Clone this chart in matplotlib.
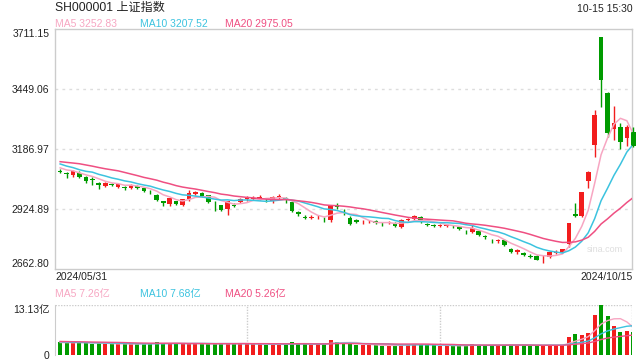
import matplotlib
matplotlib.use("Agg")
import matplotlib.pyplot as plt
import numpy as np

plt.rcParams['font.family'] = ['Liberation Sans', 'Noto Sans CJK SC', 'DejaVu Sans']

# ---------------- data ----------------
dates_first = "2024/05/31"
dates_last = "2024/10/15"

prior_close = [3140.72, 3147.74, 3128.48, 3154.32, 3154.55, 3148.02, 3145.77, 3119.90,
               3122.40, 3154.03, 3171.15, 3157.97, 3158.54, 3116.39, 3088.87, 3124.04,
               3109.57, 3111.02, 3091.68]

open_ = [3093, 3084, 3074, 3082, 3064, 3054, 3040, 3027, 3036, 3022,
         3019, 3016, 3027, 3017, 3001, 2986, 2958, 2947, 2958, 2943,
         2968, 2991, 2996, 2985, 2953, 2941, 2925, 2944, 2955, 2967,
         2970, 2972, 2965, 2962, 2975, 2972, 2955, 2912, 2889, 2887,
         2888, 2882, 2876, 2942, 2910, 2886, 2878, 2866, 2866, 2874,
         2861, 2864, 2865, 2846, 2876, 2882, 2890, 2859, 2856, 2851,
         2852, 2851, 2846, 2826, 2825, 2830, 2806, 2787, 2785, 2790,
         2751, 2736, 2734, 2720, 2718, 2714, 2716, 2733, 2736, 2770.75,
         2901, 2893, 3047, 3206, 3674.4, 3433, 3276, 3282, 3236, 3262]
close = [3086.81, 3078.49, 3091.20, 3065.40, 3048.79, 3051.28, 3028.05, 3037.47, 3028.92, 3032.63,
         3015.89, 3030.25, 3018.05, 3005.44, 2998.14, 2963.10, 2950.00, 2972.53, 2945.85, 2967.40,
         2994.73, 2997.01, 2982.38, 2957.57, 2949.93, 2922.45, 2959.37, 2939.36, 2970.39, 2971.30,
         2974.01, 2976.30, 2962.84, 2977.13, 2982.31, 2964.22, 2915.37, 2901.95, 2886.43, 2890.90,
         2891.85, 2879.30, 2938.75, 2932.39, 2905.34, 2860.70, 2867.28, 2869.90, 2869.83, 2862.19,
         2858.20, 2867.95, 2850.65, 2877.36, 2879.43, 2893.67, 2866.66, 2856.58, 2848.77, 2854.37,
         2855.52, 2848.73, 2837.43, 2823.11, 2842.21, 2811.04, 2802.98, 2784.28, 2788.22, 2765.81,
         2736.49, 2744.19, 2721.80, 2717.12, 2704.09, 2717.28, 2736.02, 2736.81, 2748.92, 2863.13,
         2896.31, 3000.95, 3087.53, 3336.50, 3489.78, 3258.86, 3301.93, 3217.74, 3284.32, 3201.29]
high = [3098, 3088, 3095, 3090, 3068, 3064, 3044, 3045, 3040, 3036,
        3025, 3034, 3031, 3020, 3008, 2990, 2962, 2975, 2962, 2970,
        3008, 3003, 3000, 2988, 2960, 2944, 2962, 2952, 2975, 2980,
        2982, 2984, 2975, 2980, 2990, 2976, 2958, 2915, 2898, 2898,
        2898, 2888, 2942, 2950, 2925, 2893, 2882, 2875, 2875, 2878,
        2866, 2872, 2868, 2880, 2885, 2898, 2894, 2865, 2860, 2860,
        2860, 2856, 2850, 2832, 2857, 2834, 2812, 2795, 2795, 2795,
        2755, 2750, 2737, 2728, 2722, 2722, 2742, 2745, 2752, 2863.13,
        2952, 3001, 3090, 3358, 3674.4, 3435, 3373, 3302, 3290, 3282]
low = [3082, 3060, 3066, 3062, 3040, 3029, 3011, 3022, 3024, 3017,
       3008, 3012, 3014, 3000, 2990, 2960, 2940, 2940, 2942, 2938,
       2962, 2986, 2978, 2950, 2918, 2918, 2898, 2934, 2950, 2962,
       2965, 2966, 2955, 2950, 2970, 2950, 2912, 2896, 2880, 2880,
       2882, 2868, 2870, 2925, 2900, 2856, 2862, 2860, 2862, 2858,
       2852, 2858, 2846, 2842, 2872, 2878, 2862, 2850, 2845, 2846,
       2846, 2842, 2833, 2816, 2820, 2808, 2796, 2778, 2778, 2762,
       2732, 2728, 2718, 2710, 2700, 2689, 2712, 2728, 2732, 2760,
       2889, 2889, 3016, 3152, 3371, 3239, 3226, 3186, 3202, 3196]

# volume in 亿
prior_vol = [3.9, 3.8, 3.6, 3.9, 3.7, 3.6, 3.5, 3.4, 3.3, 3.8, 4.1, 3.7, 3.5, 3.6, 3.4,
             3.3, 3.2, 3.1, 3.3]
volume = [3.5, 3.2, 3.1, 3.3, 3.2, 3.0, 3.1, 2.9, 2.8, 2.9,
          3.0, 2.9, 2.8, 3.0, 3.1, 3.3, 3.0, 3.0, 3.1, 2.9,
          3.0, 3.1, 2.9, 2.9, 2.8, 3.2, 3.1, 2.9, 3.0, 2.9,
          2.8, 2.9, 2.7, 2.8, 2.9, 2.8, 3.4, 3.0, 2.9, 2.7,
          2.8, 2.8, 4.0, 3.5, 3.1, 3.0, 2.7, 2.6, 2.6, 2.5,
          2.4, 2.6, 2.5, 2.8, 2.9, 3.0, 2.8, 2.6, 2.5, 2.4,
          2.5, 2.4, 2.4, 2.6, 2.8, 2.6, 2.5, 2.6, 2.5, 2.7,
          2.7, 2.6, 2.6, 2.4, 2.5, 2.6, 2.7, 2.5, 2.6, 4.7,
          5.6, 5.3, 5.9, 10.57, 13.13, 10.3, 7.6, 6.1, 6.3, 6.0]

yticks = [2662.80, 2924.89, 3186.97, 3449.06, 3711.15]
ytick_labels = ["2662.80", "2924.89", "3186.97", "3449.06", "3711.15"]
vol_max = 13.13

ma5_txt, ma10_txt, ma20_txt = "MA5 3252.83", "MA10 3207.52", "MA20 2975.05"
vma5_txt, vma10_txt, vma20_txt = "MA5 7.26亿", "MA10 7.68亿", "MA20 5.26亿"

# ---------------- styles ----------------
RED = '#f21d1d'
GREEN = '#009b00'
C_MA5 = '#f7a6c2'
C_MA10 = '#3cc3df'
C_MA20 = '#ef4f82'
FRAME = '#cccccc'
GRID = '#dddddd'
TXT = '#222222'
FS = 7.5

o = np.array(open_); c = np.array(close); h = np.array(high); l = np.array(low)
v = np.array(volume)
n = len(c)
x = np.arange(n)
up = c >= o
colors = np.where(up, RED, GREEN)

allc = np.concatenate([prior_close, c])
allv = np.concatenate([prior_vol, v])
def ma(arr, k):
    return np.convolve(arr, np.ones(k) / k, mode='valid')
npri = len(prior_close)
ma5 = ma(allc, 5)[npri - 4:]
ma10 = ma(allc, 10)[npri - 9:]
ma20 = ma(allc, 20)[npri - 19:]
vma5 = ma(allv, 5)[npri - 4:]
vma10 = ma(allv, 10)[npri - 9:]
vma20 = ma(allv, 20)[npri - 19:]

fig = plt.figure(figsize=(6.4, 3.6), dpi=100)
W, H = 640, 360
L, R = 55, 632
ax = fig.add_axes([L / W, 1 - 269 / H, (R - L) / W, 240 / H])
axv = fig.add_axes([L / W, 1 - 355 / H, (R - L) / W, 50 / H])

xl = (-0.8, 88.8)
# candles
ax.vlines(x, l, h, colors=colors, linewidth=1.0, zorder=3, clip_on=False)
body_b = np.minimum(o, c)
body_h = np.maximum(np.abs(c - o), 2.5)
ax.bar(x, body_h, bottom=body_b, width=0.72, color=colors, linewidth=0, zorder=4, clip_on=False)
ax.plot(x, ma5, color=C_MA5, lw=1.1, zorder=5)
ax.plot(x, ma10, color=C_MA10, lw=1.1, zorder=5)
ax.plot(x, ma20, color=C_MA20, lw=1.1, zorder=5)
ax.set_xlim(*xl)
ax.set_ylim(yticks[0], yticks[-1])
ax.set_yticks(yticks)
ax.set_yticklabels(ytick_labels)
ax.set_xticks([])
ax.tick_params(axis='y', length=0, pad=4, labelsize=FS, labelcolor=TXT)
tl = ax.get_yticklabels()
tl[0].set_va('bottom')
tl[-1].set_va('top')
for yv in yticks[1:-1]:
    ax.axhline(yv, color=GRID, lw=1.0, ls=(0, (2, 3)), zorder=1)
for s in ax.spines.values():
    s.set_color(FRAME)
    s.set_linewidth(1.0)
ax.text(0.985, 0.08, "sina.com", transform=ax.transAxes, ha='right', va='center',
        fontsize=6.5, color='#dedede', zorder=0)

# volume
axv.bar(x, v, width=0.62, color=colors, linewidth=0, zorder=3)
axv.plot(x, vma5, color=C_MA5, lw=1.0, zorder=4)
axv.plot(x, vma10, color=C_MA10, lw=1.0, zorder=4)
axv.plot(x, vma20, color=C_MA20, lw=1.0, zorder=4)
axv.set_xlim(*xl)
axv.set_ylim(0, vol_max)
axv.set_xticks([])
axv.set_yticks([0, vol_max])
axv.set_yticklabels(["0", "13.13亿"])
axv.tick_params(axis='y', length=0, pad=4, labelsize=FS, labelcolor=TXT)
vtl = axv.get_yticklabels()
vtl[-1].set_va('top')
for s in ['top', 'right', 'bottom']:
    axv.spines[s].set_visible(False)
axv.spines['left'].set_color(FRAME)
axv.axhline(vol_max, color=FRAME, lw=1.0, ls=(0, (1, 1)), zorder=1)
for fx in (1 / 3, 2 / 3, 1.0):
    axv.axvline(xl[0] + fx * (xl[1] - xl[0]), color=FRAME, lw=1.0, ls=(0, (1, 1)), zorder=1)

# texts
def ft(xp, yp, s, fs=FS, **kw):
    fig.text(xp / W, 1 - yp / H, s, va='center', fontsize=fs, **kw)

ft(55, 8, "SH000001 上证指数", fs=8.7, color=TXT, ha='left')
ft(633, 9, "10-15 15:30", color=TXT, ha='right')
ft(55, 24, ma5_txt, color=C_MA5, ha='left')
ft(140, 24, ma10_txt, color=C_MA10, ha='left')
ft(225, 24, ma20_txt, color=C_MA20, ha='left')
ft(55, 277, dates_first, color=TXT, ha='left')
ft(633, 277, dates_last, color=TXT, ha='right')
ft(55, 294, vma5_txt, color=C_MA5, ha='left')
ft(140, 294, vma10_txt, color=C_MA10, ha='left')
ft(225, 294, vma20_txt, color=C_MA20, ha='left')

fig.savefig("out.png", dpi=100, facecolor='white')
